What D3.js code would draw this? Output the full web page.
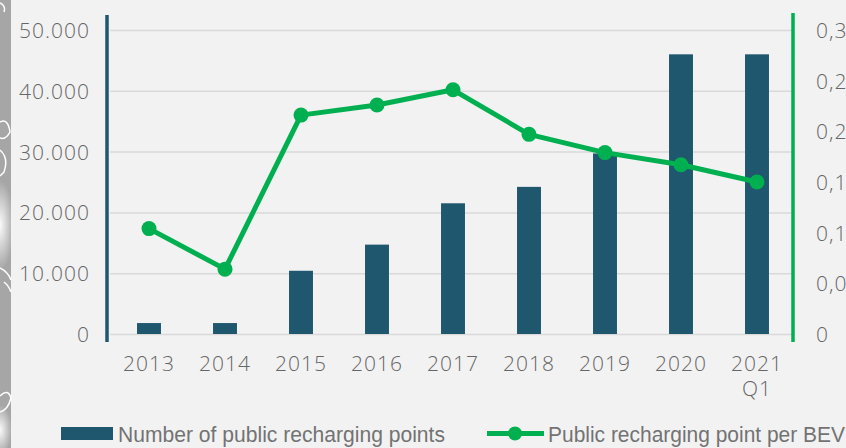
<!DOCTYPE html>
<html>
<head>
<meta charset="utf-8">
<script src="https://cdn.jsdelivr.net/npm/d3@7"></script>
<style>
  html, body { margin: 0; padding: 0; background: #f2f2f2; overflow: hidden; }
  svg { display: block; }
  .tick text { font-family: "Open Sans", "Lato", sans-serif; font-weight: 300; fill: #666666; letter-spacing: 1px; }
</style>
</head>
<body>
<div id="chart"></div>
<script>
// chart data
var years = ["2013", "2014", "2015", "2016", "2017", "2018", "2019", "2020", "2021 Q1"];
var rechargingPoints = [1800, 1800, 10400, 14700, 21500, 24200, 29700, 46000, 46000];
var pointsPerBev = [0.104, 0.064, 0.216, 0.226, 0.241, 0.197, 0.179, 0.167, 0.150];
var leftTicks = [0, 10000, 20000, 30000, 40000, 50000];
var rightTicks = [0, 0.05, 0.10, 0.15, 0.20, 0.25, 0.30];
var legendLabels = ["Number of public recharging points", "Public recharging point per BEV"];

const width = 846, height = 448;
const margin = {top: 30, bottom: 114, left: 111, right: 51};
const barColor = "#1f576e", lineColor = "#00b050";

const svg = d3.select("#chart").append("svg")
    .attr("width", width)
    .attr("height", height);

svg.append("rect").attr("width", width).attr("height", height).attr("fill", "#f2f2f2");

// grey strip with white doodles on the left edge
const defs = svg.append("defs");
const glow = defs.append("radialGradient").attr("id", "glow");
glow.append("stop").attr("offset", "0%").attr("stop-color", "#ffffff").attr("stop-opacity", 0.95);
glow.append("stop").attr("offset", "100%").attr("stop-color", "#ffffff").attr("stop-opacity", 0);

svg.append("rect").attr("x", 0).attr("y", 0).attr("width", 11).attr("height", height).attr("fill", "#a6a6a6");
svg.append("ellipse").attr("cx", 0).attr("cy", 225).attr("rx", 14).attr("ry", 45).attr("fill", "url(#glow)");
svg.append("ellipse").attr("cx", 0).attr("cy", 430).attr("rx", 12).attr("ry", 25).attr("fill", "url(#glow)");
const doodles = [
    "M0,3 Q6,6 4,12",
    "M0,122 Q8,118 10,132 Q6,140 0,138",
    "M0,150 Q9,158 4,172 L0,176",
    "M0,268 Q8,272 11,280 M4,282 Q9,286 11,292",
    "M0,396 Q8,388 11,398 Q8,410 0,412"
];
svg.append("g").selectAll("path").data(doodles).join("path")
    .attr("d", d => d)
    .attr("fill", "none")
    .attr("stroke", "#ffffff")
    .attr("stroke-width", 1.5);

const x = d3.scaleBand()
    .domain(years)
    .range([margin.left, width - margin.right])
    .paddingInner(0.685)
    .paddingOuter(0.3425);

const yLeft = d3.scaleLinear()
    .domain([0, 50000])
    .range([height - margin.bottom, margin.top]);

const yRight = d3.scaleLinear()
    .domain([0, 0.30])
    .range([height - margin.bottom, margin.top]);

const plotLeft = 110, plotRight = 792;

// gridlines
svg.append("g")
    .attr("class", "grid")
    .attr("transform", `translate(${plotLeft},0)`)
    .call(d3.axisLeft(yLeft).tickValues(leftTicks).tickSize(-(plotRight - plotLeft)).tickFormat(""))
    .call(g => g.select(".domain").remove())
    .call(g => g.selectAll("line").attr("stroke", "#d9d9d9").attr("stroke-width", 1.5));

// left axis labels
svg.append("g")
    .attr("transform", "translate(90,0)")
    .call(d3.axisLeft(yLeft).tickValues(leftTicks).tickSize(0).tickPadding(0)
        .tickFormat(d => d3.format(",")(d).replace(/,/g, ".")))
    .call(g => g.select(".domain").remove())
    .call(g => g.selectAll("text").attr("font-size", 21).attr("dy", "0.36em"));

// right axis labels
svg.append("g")
    .attr("transform", "translate(816,0)")
    .call(d3.axisRight(yRight).tickValues(rightTicks).tickSize(0).tickPadding(0)
        .tickFormat(d => d === 0 ? "0" : d3.format(".2f")(d).replace(".", ",")))
    .call(g => g.select(".domain").remove())
    .call(g => g.selectAll("text").attr("font-size", 21).attr("dy", "0.36em"));

// x axis labels
svg.append("g")
    .attr("transform", `translate(0,${height - margin.bottom})`)
    .call(d3.axisBottom(x).tickSize(0).tickPadding(0).tickFormat(""))
    .call(g => g.select(".domain").remove())
    .call(g => g.selectAll(".tick").each(function (d) {
        const parts = d.split(" ");
        parts.forEach((p, i) => {
            d3.select(this).append("text")
                .attr("text-anchor", "middle")
                .attr("font-size", 21)
                .attr("x", 0)
                .attr("y", 37 + i * 25)
                .text(p);
        });
    }));

// bars
svg.append("g")
    .selectAll("rect")
    .data(rechargingPoints)
    .join("rect")
    .attr("x", (d, i) => x(years[i]))
    .attr("y", d => yLeft(d))
    .attr("width", x.bandwidth())
    .attr("height", d => yLeft(0) - yLeft(d))
    .attr("fill", barColor);

// axis lines
svg.append("line")
    .attr("x1", 107).attr("x2", 107)
    .attr("y1", 15).attr("y2", 342)
    .attr("stroke", barColor).attr("stroke-width", 3.5);
svg.append("line")
    .attr("x1", 793).attr("x2", 793)
    .attr("y1", 13).attr("y2", 342)
    .attr("stroke", lineColor).attr("stroke-width", 3.5);

// line series
const line = d3.line()
    .x((d, i) => x(years[i]) + x.bandwidth() / 2)
    .y(d => yRight(d));

svg.append("path")
    .datum(pointsPerBev)
    .attr("d", line)
    .attr("fill", "none")
    .attr("stroke", lineColor)
    .attr("stroke-width", 5)
    .attr("stroke-linejoin", "round");

svg.append("g")
    .selectAll("circle")
    .data(pointsPerBev)
    .join("circle")
    .attr("cx", (d, i) => x(years[i]) + x.bandwidth() / 2)
    .attr("cy", d => yRight(d))
    .attr("r", 7.5)
    .attr("fill", lineColor);

// legend
const legend = svg.append("g").attr("font-family", "'Liberation Sans Narrow', 'Liberation Sans', sans-serif");
legend.append("rect")
    .attr("x", 61).attr("y", 427).attr("width", 52).attr("height", 13)
    .attr("fill", barColor);
legend.append("text")
    .attr("x", 118).attr("y", 442)
    .attr("font-size", 22)
    .attr("fill", "#737373")
    .attr("textLength", 327).attr("lengthAdjust", "spacingAndGlyphs")
    .text(legendLabels[0]);

legend.append("line")
    .attr("x1", 487).attr("x2", 544)
    .attr("y1", 433.5).attr("y2", 433.5)
    .attr("stroke", lineColor).attr("stroke-width", 5);
legend.append("circle")
    .attr("cx", 515).attr("cy", 433.5).attr("r", 7)
    .attr("fill", lineColor);
legend.append("text")
    .attr("x", 548).attr("y", 442)
    .attr("font-size", 22)
    .attr("fill", "#737373")
    .attr("textLength", 297).attr("lengthAdjust", "spacingAndGlyphs")
    .text(legendLabels[1]);
</script>
</body>
</html>
